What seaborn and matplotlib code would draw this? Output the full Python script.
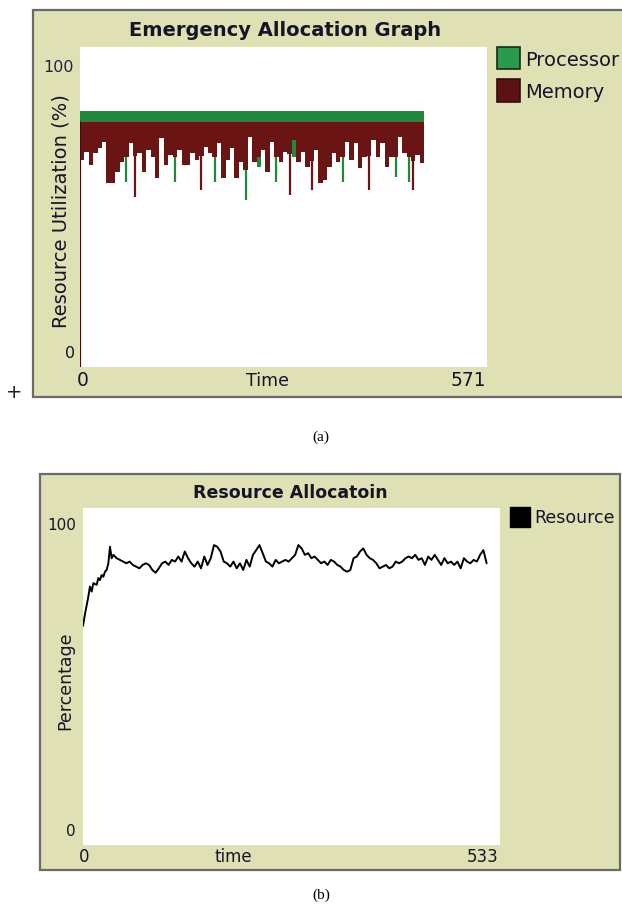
import numpy as np
import matplotlib
matplotlib.use("Agg")
import matplotlib.pyplot as plt
from matplotlib.patches import Rectangle
import seaborn as sns
import pandas as pd

sns.set_theme(style="white")
plt.rcParams['font.family'] = ['DejaVu Sans']

# ---------------- data: (a) Emergency Allocation Graph ----------------
proc_top = 80.1
mem_top = 76.7
mem_start = 0.0
time_end_a = 483
memory_low = [64.7, 67.3, 63.1, 66.8, 68.3, 70.4, 57.4, 57.4, 61.0, 64.2,
              65.7, 69.9, 66.0, 66.8, 61.0, 67.8, 65.7, 59.0, 71.5, 63.1,
              66.3, 65.7, 67.8, 63.1, 63.1, 66.8, 64.7, 66.0, 68.9, 66.8,
              65.7, 69.9, 59.0, 64.7, 68.3, 59.0, 64.2, 61.6, 72.0, 64.2,
              65.7, 67.8, 61.0, 70.4, 65.7, 64.2, 67.3, 66.5, 70.9, 64.2,
              67.3, 62.6, 64.5, 67.8, 57.4, 58.4, 62.6, 66.8, 64.2, 65.7,
              70.4, 64.7, 69.9, 62.1, 65.7, 66.0, 70.9, 65.7, 69.9, 62.6,
              65.7, 65.7, 72.0, 66.8, 65.7, 64.5, 66.3, 63.6]
processor_low = [64.7, 67.3, 63.1, 66.8, 68.3, 70.4, 57.4, 57.4, 61.0, 64.2,
                 65.7, 69.9, 66.0, 66.8, 61.0, 67.8, 65.7, 59.0, 71.5, 63.1,
                 66.3, 65.7, 67.8, 63.1, 63.1, 66.8, 64.7, 66.0, 68.9, 66.8,
                 65.7, 69.9, 59.0, 64.7, 68.3, 59.0, 64.2, 61.6, 72.0, 64.2,
                 62.6, 67.8, 61.0, 70.4, 65.7, 64.2, 67.3, 66.5, 65.7, 64.2,
                 67.3, 62.6, 64.5, 67.8, 57.4, 58.4, 62.6, 66.8, 64.2, 65.7,
                 70.4, 64.7, 69.9, 62.1, 65.7, 66.0, 70.9, 65.7, 69.9, 62.6,
                 65.7, 65.7, 72.0, 66.8, 65.7, 64.5, 66.3, 63.6]
memory_needle_bin = [12, 27, 47, 52, 65, 75]
memory_needle_low = [53.2, 55.3, 53.8, 55.3, 55.3, 55.3]
processor_needle_bin = [10, 21, 30, 37, 44, 59, 71, 74]
processor_needle_low = [57.9, 57.9, 57.9, 52.2, 57.9, 57.9, 59.5, 57.9]
xmax_a = 571

# ---------------- data: (b) Resource Allocatoin ----------------
resource_time_start = [0, 2.5, 4.5, 6.8, 8.9, 11.1, 13.2, 17.5, 19.6, 21.7,
                       23.8, 26.0, 28.1, 30.2, 32.4, 34.5, 36.6, 38.8]
resource_time_rest = (43.0, 515.9)
resource = [65.0, 68.5, 71.0, 73.7, 76.7, 75.2, 77.7, 77.2, 79.2, 78.6, 80.1, 79.6,
            81.1, 81.6, 83.6, 88.5, 85.1, 86.1, 85.1, 84.6, 84.1, 83.6, 84.1, 83.1,
            82.6, 82.1, 83.1, 83.6, 83.1, 81.6, 80.8, 82.1, 83.6, 84.1, 83.1, 84.6,
            84.1, 85.6, 84.1, 87.1, 85.1, 83.6, 82.6, 84.1, 82.1, 85.6, 83.1, 85.1,
            89.0, 88.5, 87.1, 84.1, 83.6, 82.6, 84.1, 82.1, 83.6, 81.6, 84.6, 82.6,
            86.1, 87.5, 89.0, 86.6, 84.1, 83.6, 82.6, 84.6, 83.6, 84.1, 84.6, 84.1,
            85.1, 86.1, 89.0, 88.0, 86.1, 86.6, 85.1, 85.6, 84.6, 83.6, 84.1, 83.1,
            84.6, 84.1, 83.1, 82.6, 81.6, 81.1, 81.6, 85.1, 85.6, 87.1, 88.0, 86.1,
            85.1, 84.6, 83.6, 82.1, 82.6, 83.1, 82.1, 82.6, 84.1, 83.6, 84.1, 85.1,
            85.6, 85.1, 86.1, 84.6, 85.1, 83.1, 85.6, 84.6, 86.1, 84.6, 83.1, 85.1,
            83.6, 84.1, 83.1, 84.1, 82.1, 85.1, 84.1, 83.6, 84.6, 84.1, 86.1, 87.5,
            83.6]
xmax_b = 533

# ---------------- style ----------------
KHAKI = '#dfe0b4'
FRAME = '#6a6a6a'
TXT = '#15152a'
GREEN = '#1f8a3c'
RED = '#6b1414'

W, H = 622, 916
fig = plt.figure(figsize=(W / 100, H / 100), dpi=100)
fig.patch.set_facecolor('white')


def rect(x0, y0, x1, y1):
    return [x0 / W, 1 - y1 / H, (x1 - x0) / W, (y1 - y0) / H]


def ftext(x, y, s, **kw):
    fig.text(x / W, 1 - y / H, s, color=kw.pop('color', TXT), **kw)


# frames (drawn beneath the axes)
fig.patches.append(Rectangle((33 / W, 1 - 397 / H), 600 / W, 387 / H,
                             transform=fig.transFigure, facecolor=KHAKI,
                             edgecolor=FRAME, lw=1.6, zorder=-5))
fig.patches.append(Rectangle((40 / W, 1 - 870 / H), 580 / W, 396 / H,
                             transform=fig.transFigure, facecolor=KHAKI,
                             edgecolor=FRAME, lw=1.6, zorder=-5))

# ---------------- panel (a) ----------------
ax1 = fig.add_axes(rect(80, 47, 487, 367))
ax1.set_facecolor('white')
n = len(memory_low)
edges = np.linspace(0, time_end_a, n + 1)[:-1]
wid = time_end_a / n
centers = edges + wid / 2
df_a = pd.DataFrame({'t': edges, 'mem': memory_low, 'proc': processor_low})
ax1.bar(df_a['t'], proc_top - df_a['proc'], bottom=df_a['proc'], width=wid,
        align='edge', color=GREEN, linewidth=0, antialiased=False, zorder=1)
ax1.vlines(centers[processor_needle_bin], processor_needle_low, proc_top,
           color=GREEN, lw=1.6, zorder=1.5)
ax1.bar(df_a['t'], mem_top - df_a['mem'], bottom=df_a['mem'], width=wid,
        align='edge', color=RED, linewidth=0, antialiased=False, zorder=2)
ax1.vlines(centers[memory_needle_bin], memory_needle_low, mem_top,
           color=RED, lw=1.6, zorder=2.5)
ax1.plot([edges[0], edges[0]], [mem_start, mem_top], color='#3a1010', lw=1.6,
         zorder=3)
ax1.set_xlim(0, xmax_a)
ax1.set_ylim(0, 100)
ax1.set_xticks([]); ax1.set_yticks([])
for s in ax1.spines.values():
    s.set_visible(False)

ftext(285, 30, 'Emergency Allocation Graph', fontsize=14, fontweight='bold',
      ha='center', va='center')
ftext(74, 67, '100', fontsize=11.5, ha='right', va='center', color='#20205a')
ftext(75, 353, '0', fontsize=11.5, ha='right', va='center')
ftext(83, 381, '0', fontsize=13.5, ha='center', va='center')
ftext(268, 381, 'Time', fontsize=12.5, ha='center', va='center')
ftext(486, 381, '571', fontsize=13.5, ha='right', va='center')
ftext(61, 211, 'Resource Utilization (%)', fontsize=14, rotation=90,
      ha='center', va='center')
ftext(14, 392, '+', fontsize=14, ha='center', va='center', color='#222222')
# legend
fig.patches.append(Rectangle((497 / W, 1 - 69 / H), 23 / W, 22 / H,
                             transform=fig.transFigure, facecolor='#2a9a4c',
                             edgecolor='#1a2a1a', lw=1.2))
fig.patches.append(Rectangle((497 / W, 1 - 102 / H), 23 / W, 23 / H,
                             transform=fig.transFigure, facecolor='#5a1212',
                             edgecolor='#2a1010', lw=1.2))
ftext(525, 60, 'Processor', fontsize=14, ha='left', va='center')
ftext(525, 93, 'Memory', fontsize=14, ha='left', va='center')
ftext(321, 437, '(a)', fontsize=11, family='Liberation Serif', ha='center',
      va='center', color='black')

# ---------------- panel (b) ----------------
ax2 = fig.add_axes(rect(83, 508, 500, 845))
ax2.set_facecolor('white')
n_rest = len(resource) - len(resource_time_start)
resource_time = np.concatenate([resource_time_start,
                                np.linspace(*resource_time_rest, n_rest)])
df_b = pd.DataFrame({'time': resource_time, 'Resource': resource})
sns.lineplot(data=df_b, x='time', y='Resource', ax=ax2, color='black', lw=1.4)
ax2.set_xlim(0, xmax_b)
ax2.set_ylim(0, 100)
ax2.set_xticks([]); ax2.set_yticks([])
ax2.set_xlabel(''); ax2.set_ylabel('')
for s in ax2.spines.values():
    s.set_visible(False)

ftext(290, 493, 'Resource Allocatoin', fontsize=12.5, fontweight='bold',
      ha='center', va='center')
ftext(76, 525, '100', fontsize=11, ha='right', va='center')
ftext(76, 832, '0', fontsize=11, ha='right', va='center')
ftext(84, 857, '0', fontsize=12, ha='center', va='center')
ftext(233, 857, 'time', fontsize=12, ha='center', va='center')
ftext(498, 857, '533', fontsize=12, ha='right', va='center')
ftext(65, 681, 'Percentage', fontsize=12.5, rotation=90, ha='center',
      va='center')
fig.patches.append(Rectangle((510 / W, 1 - 527 / H), 20 / W, 20 / H,
                             transform=fig.transFigure, facecolor='black',
                             edgecolor='black', lw=1))
ftext(534, 518, 'Resource', fontsize=12.5, ha='left', va='center')
ftext(321, 895, '(b)', fontsize=11, family='Liberation Serif', ha='center',
      va='center', color='black')

fig.savefig('out.png', dpi=100)
